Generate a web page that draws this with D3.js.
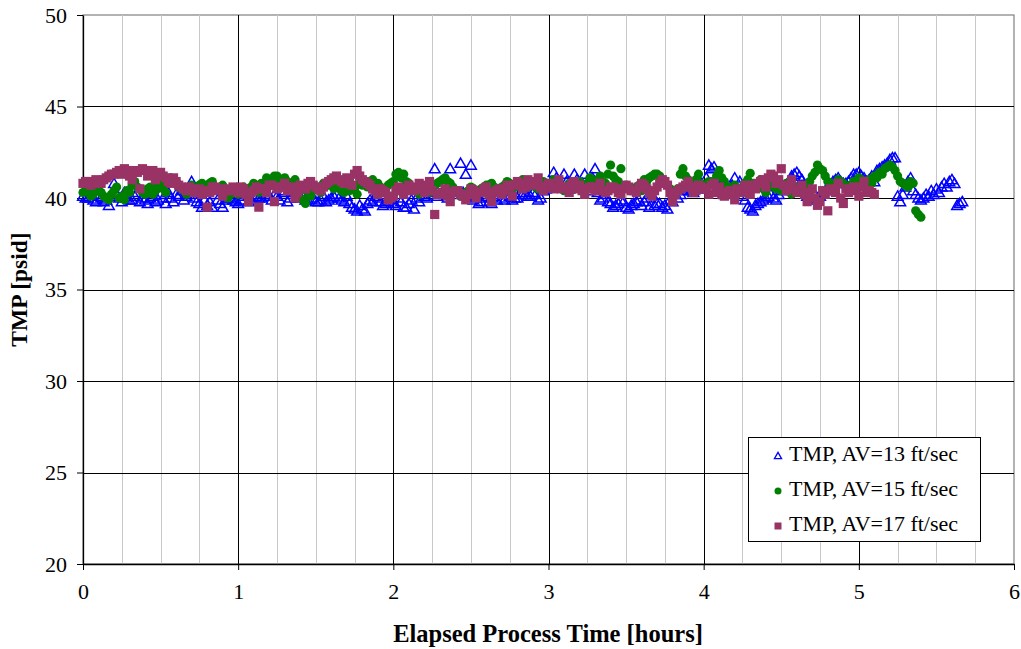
<!DOCTYPE html>
<html>
<head>
<meta charset="utf-8">
<script src="https://cdn.jsdelivr.net/npm/d3@7/dist/d3.min.js"></script>
<style>
  html, body { margin: 0; padding: 0; background: #fff; }
  svg { display: block; font-family: "Liberation Serif", "Times New Roman", serif; }
</style>
</head>
<body>
<svg id="chart" width="1021" height="649"></svg>
<script>
// Sample times, minutes since start of run (one reading per minute)
const elapsedMinutes = [
  0,1,2,3,4,5,6,7,8,9,10,11,12,13,14,15,16,17,18,19,
  20,21,22,23,24,25,26,27,28,29,30,31,32,33,34,35,36,37,38,39,
  40,41,42,43,44,45,46,47,48,49,50,51,52,53,54,55,56,57,58,59,
  60,61,62,63,64,65,66,67,68,69,70,71,72,73,74,75,76,77,78,79,
  80,81,82,83,84,85,86,87,88,89,90,91,92,93,94,95,96,97,98,99,
  100,101,102,103,104,105,106,107,108,109,110,111,112,113,114,115,116,117,118,119,
  120,121,122,123,124,125,126,127,128,129,130,131,132,133,134,135,136,137,138,139,
  140,141,142,143,144,145,146,147,148,149,150,151,152,153,154,155,156,157,158,159,
  160,161,162,163,164,165,166,167,168,169,170,171,172,173,174,175,176,177,178,179,
  180,181,182,183,184,185,186,187,188,189,190,191,192,193,194,195,196,197,198,199,
  200,201,202,203,204,205,206,207,208,209,210,211,212,213,214,215,216,217,218,219,
  220,221,222,223,224,225,226,227,228,229,230,231,232,233,234,235,236,237,238,239,
  240,241,242,243,244,245,246,247,248,249,250,251,252,253,254,255,256,257,258,259,
  260,261,262,263,264,265,266,267,268,269,270,271,272,273,274,275,276,277,278,279,
  280,281,282,283,284,285,286,287,288,289,290,291,292,293,294,295,296,297,298,299,
  300,301,302,303,304,305,306,307,308,309,310,311,312,313,314,315,316,317,318,319,
  320,321,322,323,324,325,326,327,328,329,330,331,332,333,334,335,336,337,338,339,
  340
];

// TMP [psid] at AV = 13 ft/sec (0 to 340 min)
const tmpAV13 = [
  40.1,40.0,40.0,40.2,39.9,39.8,40.1,40.0,39.8,39.9,
  39.6,40.1,40.8,40.2,40.0,39.8,40.3,40.0,39.9,39.9,
  40.1,40.3,39.8,40.0,39.9,39.7,40.0,40.1,39.8,39.9,
  40.2,40.0,39.7,40.3,40.0,39.8,40.2,40.1,40.4,39.9,
  40.1,40.2,40.9,40.0,39.8,39.7,39.5,39.9,39.6,39.8,
  39.5,40.2,39.9,39.7,39.5,39.9,40.0,
  40.0,39.9,39.8,39.7,39.9,40.1,40.2,39.8,39.9,40.2,
  40.1,40.0,40.0,40.3,40.2,40.1,39.9,40.2,40.1,39.9,
  40.3,40.4,39.8,40.0,40.2,40.3,40.0,40.1,40.1,39.9,
  39.9,40.2,40.0,39.8,39.8,39.9,40.1,39.8,39.9,40.0,
  40.1,40.2,40.0,39.9,39.8,40.1,39.7,39.5,39.4,39.3,
  39.6,39.4,39.3,39.7,39.9,39.8,40.1,40.0,
  39.8,39.6,39.7,39.8,39.9,39.7,39.6,40.0,39.8,39.5,
  39.5,39.7,39.9,39.4,40.0,39.8,40.2,40.1,40.0,40.3,
  40.4,41.6,40.1,40.5,40.3,40.2,40.0,41.6,40.5,40.4,
  40.2,41.9,40.3,41.3,40.1,41.8,39.9,40.0,39.7,39.8,
  40.0,40.1,39.8,39.7,40.1,39.9,40.2,40.0,39.9,40.2,
  40.1,39.9,40.0,40.0,40.3,40.2,40.2,40.1,
  40.1,40.3,40.2,39.9,40.0,40.4,40.5,40.6,40.9,41.4,
  41.1,40.8,40.6,41.3,40.9,40.5,40.6,41.3,41.0,40.7,
  40.8,41.3,40.6,40.4,41.1,41.6,40.3,39.9,40.0,40.2,
  39.8,39.7,39.5,39.6,39.7,39.9,39.8,39.5,39.4,39.6,
  39.7,39.8,39.9,39.6,39.8,40.0,39.5,40.2,39.6,39.7,
  39.7,39.5,39.6,39.4,39.9,39.8,40.2,40.0,
  40.2,40.4,40.5,40.6,40.4,40.3,40.6,40.7,40.8,40.5,
  41.1,41.8,41.6,41.7,40.9,40.6,40.4,40.2,40.3,40.4,
  40.7,41.1,40.5,40.9,40.1,39.9,39.5,39.4,39.3,39.6,
  39.7,39.8,39.9,40.0,40.1,40.2,40.0,39.9,40.2,40.4,
  40.5,40.6,40.9,41.2,41.3,41.4,41.2,41.0,40.6,40.1,
  40.0,39.9,40.2,40.0,40.1,40.3,40.4,40.5,
  40.7,40.9,41.0,41.1,40.9,40.8,40.8,40.9,41.1,41.3,
  41.3,41.4,41.2,41.1,40.9,41.0,41.2,40.9,41.5,41.6,
  41.7,41.8,41.9,42.1,42.2,42.2,40.1,39.8,40.2,40.6,
  40.9,41.1,40.4,40.2,40.0,39.9,40.0,40.2,40.1,40.4,
  40.2,40.5,40.3,40.6,40.8,40.6,40.9,41.0,40.8,39.6,
  39.7,39.8
];

// TMP [psid] at AV = 15 ft/sec (0 to 324 min)
const tmpAV15 = [
  40.3,40.4,40.5,40.1,40.2,40.5,40.6,40.3,40.1,40.0,
  39.9,40.2,40.4,40.6,40.0,40.1,39.9,40.4,40.3,40.7,
  40.9,40.6,40.5,40.3,40.2,40.5,40.6,40.2,40.4,40.7,
  40.8,40.5,40.3,40.8,41.1,41.0,40.9,40.6,40.5,40.4,
  40.2,40.6,40.7,40.5,40.4,40.7,40.8,40.3,40.6,40.8,
  40.9,40.6,40.5,40.4,40.7,40.3,40.0,
  40.2,40.5,40.4,40.2,40.3,40.6,40.5,40.4,40.6,40.8,
  40.4,40.3,40.8,40.6,41.1,41.0,41.0,41.2,41.2,40.9,
  40.8,41.1,40.9,40.7,40.6,41.0,40.0,40.4,39.9,39.7,
  40.3,40.1,40.4,40.5,40.6,40.3,40.8,40.7,40.7,40.9,
  40.5,40.6,40.6,40.4,40.3,40.8,40.4,40.5,40.5,40.2,
  40.8,40.7,40.9,40.6,40.7,41.0,40.6,40.8,
  40.6,40.4,40.5,40.7,40.8,40.9,41.3,41.4,41.1,41.3,
  40.9,40.8,40.6,40.5,40.4,40.2,40.3,40.6,40.5,40.3,
  40.6,40.7,40.8,40.9,41.0,41.1,40.9,40.8,40.6,40.4,
  40.3,40.1,40.2,40.3,40.4,40.6,40.5,40.2,40.3,40.5,
  40.6,40.7,40.7,40.8,40.6,40.4,40.5,40.6,40.7,40.9,
  40.8,40.5,40.6,40.7,40.8,41.0,40.9,40.6,
  40.7,40.8,40.6,40.5,40.7,40.9,40.8,40.6,40.8,41.0,
  40.9,40.7,40.6,40.4,40.6,40.8,40.7,40.5,40.7,40.9,
  40.6,40.3,40.8,41.1,40.9,40.6,41.0,41.2,40.9,40.8,
  41.3,41.8,41.2,41.0,40.9,41.6,40.6,40.7,40.5,40.5,
  40.5,40.6,40.7,40.4,41.0,40.9,41.1,41.2,41.3,41.3,
  41.2,41.0,40.8,40.7,40.5,40.3,40.4,40.5,
  41.3,41.6,41.2,41.0,40.8,40.7,41.0,41.3,40.8,40.6,
  40.7,40.9,40.9,40.8,41.2,41.5,41.1,40.9,40.6,40.5,
  40.6,40.7,40.5,40.4,40.6,40.8,41.0,41.35,40.8,40.6,
  40.7,41.0,40.5,40.3,40.6,40.9,40.7,40.5,40.6,40.4,
  40.5,40.8,40.4,40.2,40.5,40.6,40.5,40.3,40.6,40.7,
  40.9,41.2,41.4,41.8,41.6,41.5,41.2,40.9,
  40.8,40.6,40.7,41.0,40.9,40.8,40.6,40.5,40.7,40.9,
  40.8,41.1,41.0,40.7,40.9,41.0,40.8,41.2,41.1,41.4,
  41.3,41.6,41.7,41.8,41.7,41.5,41.2,40.9,40.8,40.7,
  40.6,40.9,40.8,39.3,39.1,38.95
];

// TMP [psid] at AV = 17 ft/sec (0 to 306 min)
const tmpAV17 = [
  40.8,40.9,40.9,40.7,40.8,41.0,40.9,40.8,41.0,41.1,
  41.2,41.3,41.3,41.4,41.5,41.3,41.6,41.5,41.2,41.0,
  41.5,41.4,40.5,41.6,41.5,41.2,41.3,41.5,41.0,41.3,
  41.4,41.2,41.1,40.9,40.8,41.1,40.9,40.7,40.6,40.5,
  40.4,40.6,40.5,40.3,40.3,40.5,40.2,40.4,39.5,40.3,
  40.6,40.6,40.4,40.5,40.1,40.4,40.5,
  40.4,40.6,40.5,40.3,40.6,40.5,40.2,39.8,40.3,40.4,
  40.6,39.5,40.5,40.5,40.3,40.7,40.7,39.8,40.5,40.6,
  40.6,40.8,40.4,40.4,40.6,40.0,40.3,40.7,40.6,40.5,
  40.8,40.9,40.7,40.6,40.5,40.4,40.6,40.8,40.9,41.0,
  41.1,41.2,41.0,40.9,40.8,41.1,40.9,40.7,41.3,41.5,
  41.2,41.0,40.9,40.8,40.7,40.5,40.4,40.2,
  40.5,40.4,40.3,39.9,40.0,40.1,40.4,40.6,40.5,40.2,
  40.4,40.7,40.6,40.4,40.5,40.8,40.7,40.3,40.6,40.9,
  40.4,39.1,40.2,40.2,40.3,40.5,40.1,39.8,40.3,40.4,
  40.4,40.2,40.1,39.9,40.2,40.5,40.4,40.0,40.3,40.3,
  40.5,40.6,40.2,39.8,40.3,40.4,40.5,40.2,40.4,40.7,
  40.6,40.1,40.7,40.9,40.8,40.5,40.6,41.0,
  40.8,40.7,40.9,41.1,40.6,40.4,40.6,40.8,40.7,40.5,
  40.8,41.0,40.5,40.6,40.6,40.3,40.8,40.9,40.5,40.7,
  40.4,40.2,40.5,40.6,40.6,40.4,40.5,40.8,40.4,40.3,
  40.4,40.6,40.6,40.5,40.3,40.2,40.5,40.7,40.6,40.4,
  40.4,40.3,40.6,40.8,40.7,40.5,40.3,40.1,40.4,40.6,
  40.8,41.0,40.9,40.7,40.3,39.8,40.2,40.4,
  40.5,40.6,40.7,40.9,40.6,40.3,40.4,40.7,40.6,40.5,
  40.5,40.2,40.7,40.8,40.3,40.6,40.2,40.1,40.3,40.4,
  40.2,39.9,40.5,40.3,40.4,40.7,40.3,40.2,40.7,40.5,
  40.8,40.9,41.0,40.6,41.1,41.3,41.2,40.8,41.0,41.6,
  40.7,40.4,40.6,41.0,40.5,40.3,40.4,40.7,40.2,39.8,
  40.3,40.5,40.0,39.6,39.8,40.4,40.2,39.3,40.5,40.4,
  40.3,40.8,40.0,39.7,40.5,40.3,40.4,40.6,40.5,40.1,
  40.6,40.9,40.3,40.4,40.3,40.2
];

const seriesNames = ["TMP, AV=13 ft/sec", "TMP, AV=15 ft/sec", "TMP, AV=17 ft/sec"];
const seriesColors = ["#0000ff", "#008000", "#993366"];
const xTicks = [0, 1, 2, 3, 4, 5, 6];
const yTicks = [20, 25, 30, 35, 40, 45, 50];
const xMinorTicks = [0.25,0.5,0.75,1.25,1.5,1.75,2.25,2.5,2.75,3.25,3.5,3.75,4.25,4.5,4.75,5.25,5.5,5.75];

const W = 1021, H = 649;
const m = { left: 83, top: 15, right: 7, bottom: 85 };
const svg = d3.select("#chart");
const serif = '"Liberation Serif", "Times New Roman", serif';

const x = d3.scaleLinear().domain([0, 6]).range([m.left, W - m.right]);
const y = d3.scaleLinear().domain([20, 50]).range([H - m.bottom, m.top]);

// plot frame
svg.append("rect")
  .attr("x", x(0)).attr("y", y(50))
  .attr("width", x(6) - x(0)).attr("height", y(20) - y(50))
  .attr("fill", "#fff").attr("stroke", "#808080").attr("stroke-width", 1.2);

// minor vertical gridlines (quarter hours)
svg.append("g").selectAll("line").data(xMinorTicks).join("line")
  .attr("x1", d => Math.round(x(d)) + 0.5).attr("x2", d => Math.round(x(d)) + 0.5)
  .attr("y1", y(50)).attr("y2", y(20))
  .attr("stroke", "#c8c8c8").attr("stroke-width", 1);

// major gridlines
svg.append("g").selectAll("line").data(xTicks.slice(1, -1)).join("line")
  .attr("x1", d => Math.round(x(d)) + 0.5).attr("x2", d => Math.round(x(d)) + 0.5)
  .attr("y1", y(50)).attr("y2", y(20))
  .attr("stroke", "#000").attr("stroke-width", 1);
svg.append("g").selectAll("line").data(yTicks.slice(1, -1)).join("line")
  .attr("y1", d => Math.round(y(d)) + 0.5).attr("y2", d => Math.round(y(d)) + 0.5)
  .attr("x1", x(0)).attr("x2", x(6))
  .attr("stroke", "#000").attr("stroke-width", 1);

// axes
const xAxis = svg.append("g")
  .attr("transform", `translate(0,${y(20)})`)
  .call(d3.axisBottom(x).tickValues(xTicks).tickFormat(d3.format("d")).tickSizeInner(6).tickSizeOuter(0).tickPadding(13));
const yAxis = svg.append("g")
  .attr("transform", `translate(${x(0)},0)`)
  .call(d3.axisLeft(y).tickValues(yTicks).tickFormat(d3.format("d")).tickSizeInner(6).tickSizeOuter(0).tickPadding(10));
[xAxis, yAxis].forEach(g => {
  g.select(".domain").attr("stroke", "#000").attr("stroke-width", 1.3);
  g.selectAll(".tick line").attr("stroke", "#000");
  g.selectAll(".tick text").attr("fill", "#000")
    .style("font-family", serif)
    .style("font-size", "22px");
});

// markers: 13 ft/sec underneath, 17 ft/sec on top
const series = [tmpAV13, tmpAV15, tmpAV17].map((vals, i) =>
  vals.map((v, j) => ({ t: elapsedMinutes[j] / 60, v, s: i })));

const tri = d3.symbol().type(d3.symbolTriangle).size(50);
svg.append("g").selectAll("path").data(series[0]).join("path")
  .attr("d", tri)
  .attr("transform", d => `translate(${x(d.t)},${y(d.v) + 1})`)
  .attr("fill", "none").attr("stroke", seriesColors[0]).attr("stroke-width", 1.5);

svg.append("g").selectAll("circle").data(series[1]).join("circle")
  .attr("cx", d => x(d.t)).attr("cy", d => y(d.v)).attr("r", 4.6)
  .attr("fill", seriesColors[1]);

svg.append("g").selectAll("rect").data(series[2]).join("rect")
  .attr("x", d => x(d.t) - 4.6).attr("y", d => y(d.v) - 4.6)
  .attr("width", 9.2).attr("height", 9.2)
  .attr("fill", seriesColors[2]);

// axis titles
svg.append("text")
  .attr("x", 548).attr("y", 636)
  .attr("text-anchor", "middle").attr("dominant-baseline", "middle")
  .style("font-size", "24.5px").style("font-weight", "bold")
  .text("Elapsed Process Time [hours]");
svg.append("text")
  .attr("transform", `translate(22,${(y(20) + y(50)) / 2}) rotate(-90)`)
  .attr("text-anchor", "middle").attr("dominant-baseline", "middle")
  .style("font-size", "23.5px").style("font-weight", "bold")
  .text("TMP [psid]");

// legend
const lg = svg.append("g").attr("transform", "translate(748,437)");
lg.append("rect").attr("x", 0.5).attr("y", 0.5).attr("width", 232).attr("height", 104)
  .attr("fill", "#fff").attr("stroke", "#000").attr("stroke-width", 1);
const rowY = [19, 54, 89];
seriesNames.forEach((name, i) => {
  const row = lg.append("g").attr("transform", `translate(30,${rowY[i]})`);
  if (i === 0) {
    row.append("path").attr("d", d3.symbol().type(d3.symbolTriangle).size(22))
      .attr("transform", "translate(0,0.5)")
      .attr("fill", "none").attr("stroke", seriesColors[0]).attr("stroke-width", 1.3);
  } else if (i === 1) {
    row.append("circle").attr("r", 3.5).attr("fill", seriesColors[1]);
  } else {
    row.append("rect").attr("x", -3.5).attr("y", -3.5).attr("width", 7).attr("height", 7)
      .attr("fill", seriesColors[2]);
  }
  row.append("text").attr("x", 11).attr("y", 0)
    .attr("dominant-baseline", "middle")
    .style("font-size", "22px")
    .text(name);
});
</script>
</body>
</html>
